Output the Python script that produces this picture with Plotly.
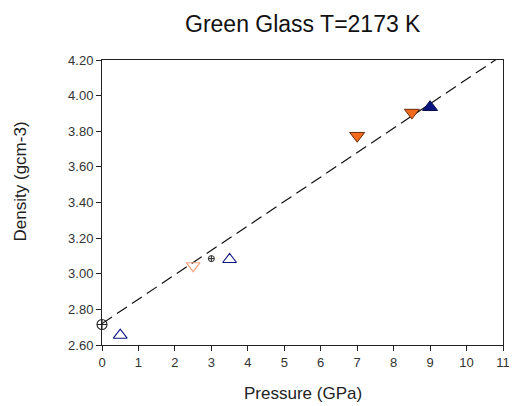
import plotly.graph_objects as go

# Data
fit_x = [0.0, 10.95]
fit_y = [2.72, 4.222]

ref_circle_x = [0.0]
ref_circle_y = [2.715]

small_circle_x = [3.0]
small_circle_y = [3.085]

open_up_x = [0.5, 3.5]
open_up_y = [2.655, 3.08]

open_down_x = [2.5]
open_down_y = [3.045]

filled_down_x = [7.0, 8.5]
filled_down_y = [3.775, 3.905]

filled_up_x = [9.0]
filled_up_y = [3.935]

x_ticks = list(range(0, 12))
y_ticks = [2.6, 2.8, 3.0, 3.2, 3.4, 3.6, 3.8, 4.0, 4.2]
y_tick_labels = ["%.2f" % v for v in y_ticks]

NAVY = "#0b1580"
ORANGE = "#f26a1b"
LIGHT_ORANGE = "#f2a37f"

fig = go.Figure()

fig.add_trace(go.Scatter(
    x=fit_x, y=fit_y, mode="lines",
    line=dict(color="#111111", width=1.2, dash="12px,6px"),
    cliponaxis=False, showlegend=False, hoverinfo="skip"))

fig.add_trace(go.Scatter(
    x=ref_circle_x, y=ref_circle_y, mode="markers",
    marker=dict(symbol="circle-cross-open", size=10, color="#222222",
                line=dict(width=1.1)),
    cliponaxis=False, showlegend=False))

fig.add_trace(go.Scatter(
    x=small_circle_x, y=small_circle_y, mode="markers",
    marker=dict(symbol="circle-cross-open", size=6, color="#222222",
                line=dict(width=1)),
    showlegend=False))

fig.add_trace(go.Scatter(
    x=open_up_x, y=open_up_y, mode="markers",
    marker=dict(symbol="triangle-up-open", size=12, color=NAVY,
                line=dict(width=1.1)),
    cliponaxis=False, showlegend=False))

fig.add_trace(go.Scatter(
    x=open_down_x, y=open_down_y, mode="markers",
    marker=dict(symbol="triangle-down-open", size=12, color=LIGHT_ORANGE,
                line=dict(width=1.2)),
    showlegend=False))

fig.add_trace(go.Scatter(
    x=filled_down_x, y=filled_down_y, mode="markers",
    marker=dict(symbol="triangle-down", size=13, color=ORANGE,
                line=dict(width=1, color="#6a2a08")),
    showlegend=False))

fig.add_trace(go.Scatter(
    x=filled_up_x, y=filled_up_y, mode="markers",
    marker=dict(symbol="triangle-up", size=13, color=NAVY,
                line=dict(width=1, color="#050a40")),
    showlegend=False))

axis_common = dict(
    showgrid=False, zeroline=False, showline=True, linecolor="#222222",
    linewidth=1, mirror=True, ticks="outside", ticklen=5, tickwidth=1,
    tickcolor="#222222", tickfont=dict(family="Liberation Sans, Arial", size=13, color="#333333"),
)

fig.update_xaxes(range=[0, 11], tickmode="array", tickvals=x_ticks,
                 ticktext=[str(v) for v in x_ticks], **axis_common)
fig.update_yaxes(range=[2.6, 4.2], tickmode="array", tickvals=y_ticks,
                 ticktext=y_tick_labels, **axis_common)

# page body has an 8px margin, so the figure is sized/offset to compensate
fig.update_layout(
    width=509, height=398,
    margin=dict(l=94, r=7, t=52, b=61),
    paper_bgcolor="white", plot_bgcolor="white",
    font=dict(family="Liberation Sans, Arial", color="#111111"),
    annotations=[
        dict(text="Green Glass T=2173 K", xref="paper", yref="paper",
             x=0.5, y=1 + (60 - 24) / 285, xanchor="center", yanchor="middle",
             showarrow=False, font=dict(size=23, color="#111111")),
        dict(text="Pressure (GPa)", xref="paper", yref="paper",
             x=0.5, y=-(393 - 345) / 285, xanchor="center", yanchor="middle",
             showarrow=False, font=dict(size=17, color="#222222")),
        dict(text="Density (gcm-3)", xref="paper", yref="paper",
             x=(19 - 102) / 408, y=(345 - 181) / 285, xanchor="center", yanchor="middle",
             textangle=-90, showarrow=False, font=dict(size=17, color="#222222")),
    ],
)

fig.write_html("out.html")
